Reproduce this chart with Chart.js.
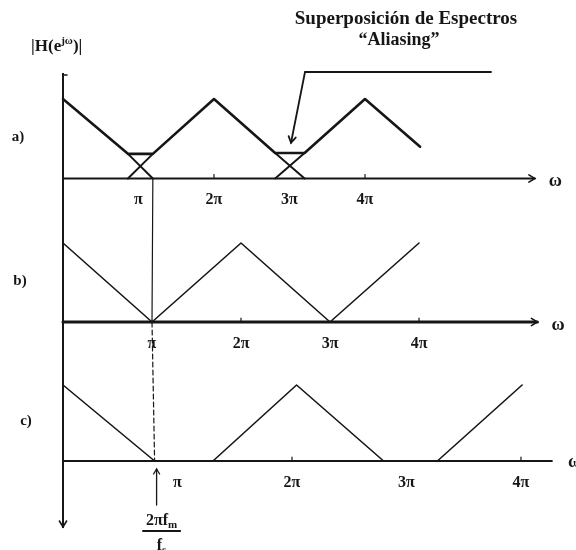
<!DOCTYPE html>
<html>
<head>
<meta charset="utf-8">
<script src="https://cdn.jsdelivr.net/npm/chart.js@4/dist/chart.umd.min.js"></script>
<style>
  html, body { margin: 0; padding: 0; background: #fff; overflow: hidden; }
  #wrap { position: relative; width: 576px; height: 550px; }
</style>
</head>
<body>
<div id="wrap"><canvas id="spectra" width="576" height="550"></canvas></div>
<script>
// Frequency axis ticks, in multiples of π
const tickValues = [1, 2, 3, 4];
const tickLabels = ['π', '2π', '3π', '4π'];

// a) undersampled: neighbouring spectra overlap around π and 3π
const specA = [[0, 1], [0.86, 0.31], [1.19, 0.31], [2, 1], [2.81, 0.32], [3.2, 0.32], [4, 1], [4.73, 0.4]];
const overlapA1 = [[0.86, 0.31], [1.19, 0]];
const overlapA2 = [[1.19, 0.31], [0.86, 0]];
const overlapA3 = [[2.81, 0.32], [3.2, 0]];
const overlapA4 = [[3.2, 0.32], [2.81, 0]];

// b) replicas just touching at π and 3π
const specB = [[0, 1], [1, 0], [2, 1], [3, 0], [4, 1]];

// c) oversampled: empty bands between the replicas
const specC = [[0, 1], [0.8, 0], [1.31, 0], [2.04, 1], [2.8, 0], [3.27, 0], [4.01, 1]];

// upper edge of the baseband, 2π·fm/fs, in each panel's units
const bandEdge = { a: 1.19, b: 1, c: 0.8 };

const INK = '#161616';
const SERIF = '"Liberation Serif", "DejaVu Serif", serif';

const pts = arr => arr.map(([x, y]) => ({ x, y }));

function lineSet(data, xAxisID, yAxisID, width) {
  return {
    data: pts(data), xAxisID, yAxisID,
    showLine: true, borderColor: INK, borderWidth: width,
    pointRadius: 0, tension: 0, fill: false, clip: false,
    borderJoinStyle: 'round', borderCapStyle: 'round'
  };
}

function xScale(max, yId) {
  return {
    type: 'linear', min: 0, max,
    position: { [yId]: 0 },
    border: { display: false },
    grid: { display: false, drawTicks: false },
    afterBuildTicks: s => { s.ticks = tickValues.map(v => ({ value: v })); },
    ticks: {
      autoSkip: false, maxRotation: 0, padding: 12,
      color: INK,
      font: { family: SERIF, weight: 'bold', size: 16 },
      callback: v => { const i = tickValues.indexOf(v); return i < 0 ? '' : tickLabels[i]; }
    }
  };
}

function yScale(min, max, stackWeight, weight) {
  return {
    type: 'linear', position: 'left', stack: 'panels', stackWeight, weight,
    min, max,
    border: { display: true, color: INK, width: 2 },
    grid: { display: false, drawTicks: false },
    ticks: { display: false }
  };
}

// panel decorations: axis length (in π) and whether it ends in an arrowhead
const panels = [
  { x: 'xa', y: 'ya', label: 'a)', labelX: 18, axisEnd: 6.25, axisWidth: 2, arrow: true, omegaDx: 14, omegaDy: 3 },
  { x: 'xb', y: 'yb', label: 'b)', labelX: 20, axisEnd: 5.33, axisWidth: 3, arrow: true, omegaDx: 14, omegaDy: 3 },
  { x: 'xc', y: 'yc', label: 'c)', labelX: 26, axisEnd: 4.27, axisWidth: 2, arrow: false, omegaDx: 16, omegaDy: 1 }
];

function arrowHead(ctx, x, y, dx, dy, size) {
  const len = Math.hypot(dx, dy), ux = dx / len, uy = dy / len;
  const px = -uy, py = ux;
  ctx.beginPath();
  ctx.moveTo(x - ux * size + px * size * 0.6, y - uy * size + py * size * 0.6);
  ctx.lineTo(x, y);
  ctx.lineTo(x - ux * size - px * size * 0.6, y - uy * size - py * size * 0.6);
  ctx.stroke();
}

// text with a raised or lowered small part, e.g. e^{jω} or f_m
function richText(ctx, parts, x, y, align) {
  const widths = parts.map(p => { ctx.font = p.font; return ctx.measureText(p.text).width; });
  const total = widths.reduce((s, w) => s + w, 0);
  let cx = align === 'center' ? x - total / 2 : x;
  ctx.textAlign = 'left';
  parts.forEach((p, i) => {
    ctx.font = p.font;
    ctx.fillText(p.text, cx, y + (p.dy || 0));
    cx += widths[i];
  });
  return total;
}

const decorations = {
  id: 'decorations',
  afterDraw(chart) {
    const { ctx, chartArea, scales } = chart;
    ctx.save();
    ctx.strokeStyle = INK;
    ctx.fillStyle = INK;
    ctx.lineCap = 'round';
    ctx.textBaseline = 'middle';

    // frequency axes, small tick marks, ω labels and panel letters
    panels.forEach(p => {
      const xs = scales[p.x], ys = scales[p.y];
      const y0 = ys.getPixelForValue(0);
      const xEnd = xs.getPixelForValue(p.axisEnd);
      ctx.lineWidth = p.axisWidth;
      ctx.beginPath();
      ctx.moveTo(chartArea.left, y0);
      ctx.lineTo(xEnd, y0);
      ctx.stroke();
      ctx.lineWidth = 1.6;
      if (p.arrow) arrowHead(ctx, xEnd, y0, 1, 0, 6);
      ctx.lineWidth = 1.2;
      [2, 4].forEach(v => {
        const xp = xs.getPixelForValue(v);
        ctx.beginPath();
        ctx.moveTo(xp, y0);
        ctx.lineTo(xp, y0 - 4);
        ctx.stroke();
      });
      ctx.font = `bold 18px ${SERIF}`;
      ctx.textAlign = 'left';
      ctx.fillText('ω', xEnd + p.omegaDx, y0 + p.omegaDy);
      ctx.font = `bold 15px ${SERIF}`;
      ctx.textAlign = 'center';
      ctx.fillText(p.label, p.labelX, ys.getPixelForValue(0.52));
    });

    // band edge carried down through the three panels
    const ax = scales.xa.getPixelForValue(bandEdge.a), ay = scales.ya.getPixelForValue(0);
    const bx = scales.xb.getPixelForValue(bandEdge.b), by = scales.yb.getPixelForValue(0);
    const cx = scales.xc.getPixelForValue(bandEdge.c), cy = scales.yc.getPixelForValue(0);
    ctx.lineWidth = 1.2;
    ctx.beginPath();
    ctx.moveTo(ax, ay);
    ctx.lineTo(bx, by);
    ctx.stroke();
    ctx.setLineDash([5, 3]);
    ctx.beginPath();
    ctx.moveTo(bx, by);
    ctx.lineTo(cx, cy);
    ctx.stroke();
    ctx.setLineDash([]);

    // arrow up to the band edge in c) and its 2π·fm/fs label
    ctx.lineWidth = 1.3;
    ctx.beginPath();
    ctx.moveTo(cx + 2, cy + 44);
    ctx.lineTo(cx + 2, cy + 8);
    ctx.stroke();
    arrowHead(ctx, cx + 2, cy + 8, 0, -1, 5);

    const fx = cx + 7, fy = cy + 60;
    const big = `bold 16px ${SERIF}`, small = `bold 11px ${SERIF}`;
    const numW = richText(ctx, [{ text: '2πf', font: big }, { text: 'm', font: small, dy: 4 }], fx, fy, 'center');
    ctx.lineWidth = 1.8;
    ctx.beginPath();
    ctx.moveTo(fx - numW / 2 - 3, fy + 10);
    ctx.lineTo(fx + numW / 2 + 3, fy + 10);
    ctx.stroke();
    richText(ctx, [{ text: 'f', font: big }, { text: 's', font: small, dy: 4 }], fx, fy + 25, 'center');

    // vertical magnitude axis: arrowhead at the bottom, small cap at the top
    ctx.lineWidth = 1.6;
    arrowHead(ctx, chartArea.left, chartArea.bottom, 0, 1, 6);
    ctx.beginPath();
    ctx.moveTo(chartArea.left, chartArea.top + 1);
    ctx.lineTo(chartArea.left + 4, chartArea.top + 1);
    ctx.stroke();

    // magnitude label |H(e^{jω})|
    richText(ctx, [
      { text: '|H(e', font: `bold 17px ${SERIF}` },
      { text: 'jω', font: `bold 11px ${SERIF}`, dy: -6 },
      { text: ')|', font: `bold 17px ${SERIF}` }
    ], 31, 47, 'left');

    // aliasing callout
    const tipX = scales.xa.getPixelForValue(3.02), tipY = scales.ya.getPixelForValue(0.45);
    ctx.lineWidth = 1.8;
    ctx.beginPath();
    ctx.moveTo(491, 72);
    ctx.lineTo(tipX + 14, 72);
    ctx.lineTo(tipX, tipY);
    ctx.stroke();
    arrowHead(ctx, tipX, tipY, -14, tipY - 72, 6);

    ctx.textAlign = 'center';
    ctx.font = `bold 19px ${SERIF}`;
    ctx.fillText('Superposición de Espectros', 406, 19);
    ctx.font = `bold 18px ${SERIF}`;
    ctx.fillText('“Aliasing”', 399, 40);
    ctx.restore();
  }
};

new Chart(document.getElementById('spectra'), {
  type: 'scatter',
  data: {
    datasets: [
      lineSet(specA, 'xa', 'ya', 2.6),
      lineSet(overlapA1, 'xa', 'ya', 2),
      lineSet(overlapA2, 'xa', 'ya', 2),
      lineSet(overlapA3, 'xa', 'ya', 2),
      lineSet(overlapA4, 'xa', 'ya', 2),
      lineSet(specB, 'xb', 'yb', 1.6),
      lineSet(specC, 'xc', 'yc', 1.6)
    ]
  },
  options: {
    responsive: false,
    animation: false,
    layout: { padding: { left: 63, right: 24, top: 74, bottom: 23 } },
    plugins: { legend: { display: false }, tooltip: { enabled: false } },
    scales: {
      xa: xScale(6.477, 'ya'),
      xb: xScale(5.494, 'yb'),
      xc: xScale(4.271, 'yc'),
      ya: yScale(-0.2704, 1.3145, 126, 3),
      yb: yScale(-0.2911, 1.5443, 145, 2),
      yc: yScale(-0.8684, 1.5263, 182, 1)
    }
  },
  plugins: [decorations]
});
</script>
</body>
</html>
